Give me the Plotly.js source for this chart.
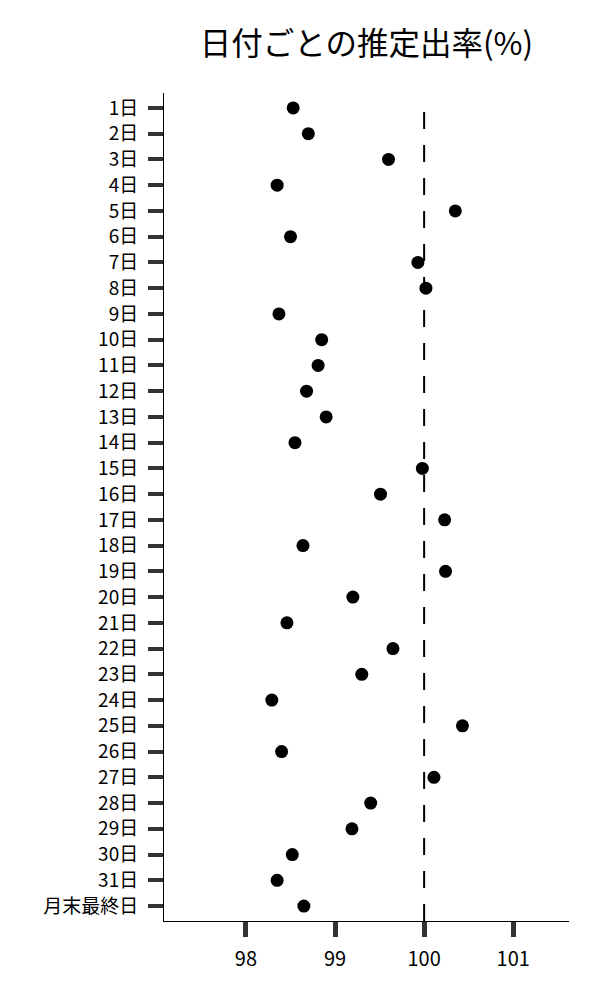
<!DOCTYPE html>
<html>
<head>
<meta charset="utf-8">
<script src="https://cdn.plot.ly/plotly-3.0.1.min.js"></script>
<style>
  body { margin: 0; background: #fff; }
  #chart { width: 600px; height: 1000px; }
</style>
</head>
<body>
<div id="chart"></div>
<script>
// day labels, top to bottom
const days = ['1日', '2日', '3日', '4日', '5日', '6日', '7日', '8日', '9日', '10日',
  '11日', '12日', '13日', '14日', '15日', '16日', '17日', '18日', '19日', '20日',
  '21日', '22日', '23日', '24日', '25日', '26日', '27日', '28日', '29日', '30日',
  '31日', '月末最終日']

// estimated rate (%) per day
const rates = [98.53, 98.70, 99.60, 98.35, 100.35, 98.50, 99.93, 100.02, 98.37, 98.85,
  98.81, 98.68, 98.90, 98.55, 99.98, 99.51, 100.23, 98.64, 100.24, 99.20,
  98.46, 99.65, 99.30, 98.29, 100.43, 98.40, 100.11, 99.40, 99.19, 98.52,
  98.35, 98.65]

const refValue = 100
const xTicks = [98, 99, 100, 101]

const font = 'Noto Sans CJK JP, Noto Sans, sans-serif'

const trace = {
  x: rates,
  y: days,
  type: 'scatter',
  mode: 'markers',
  marker: { color: '#000', size: 13 },
  hoverinfo: 'x+y'
}

const layout = {
  width: 600,
  height: 1000,
  margin: { l: 164, r: 31, t: 93, b: 79 },
  paper_bgcolor: '#fff',
  plot_bgcolor: '#fff',
  showlegend: false,
  font: { family: font, color: '#000', size: 19 },
  title: {
    text: '日付ごとの推定出率(%)',
    font: { family: font, size: 31.5, color: '#000' },
    x: 0.5, xref: 'paper', xanchor: 'center',
    y: 0.956, yref: 'container', yanchor: 'middle'
  },
  xaxis: {
    range: [97.08, 101.626],
    tickvals: xTicks,
    ticktext: xTicks.map(String),
    ticks: 'outside',
    ticklen: 15,
    tickwidth: 5,
    tickcolor: '#333',
    ticklabelstandoff: 5,
    showline: true,
    linecolor: '#000',
    linewidth: 1,
    showgrid: false,
    zeroline: false,
    tickfont: { family: font, size: 20, color: '#000' }
  },
  yaxis: {
    type: 'category',
    categoryorder: 'array',
    categoryarray: days,
    range: [31.58, -0.58],
    ticks: 'outside',
    ticklen: 15,
    tickwidth: 4,
    tickcolor: '#333',
    ticklabelstandoff: 6,
    showline: true,
    linecolor: '#000',
    linewidth: 1,
    showgrid: false,
    zeroline: false,
    tickfont: { family: font, size: 19, color: '#000' }
  },
  shapes: [{
    type: 'line',
    xref: 'x', yref: 'paper',
    x0: refValue, x1: refValue,
    y0: 0, y1: 0.987,
    line: { color: '#000', width: 2, dash: '17px,16px' },
    layer: 'below'
  }]
}

Plotly.newPlot('chart', [trace], layout, { displayModeBar: false, staticPlot: true })
</script>
</body>
</html>
